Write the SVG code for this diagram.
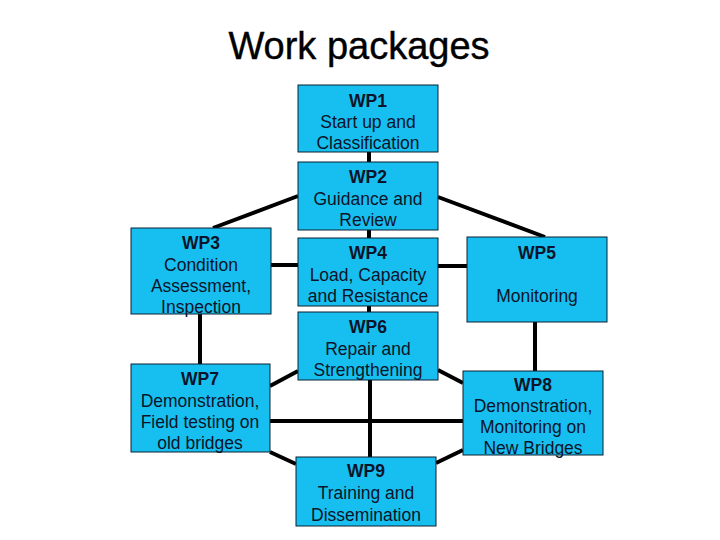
<svg xmlns="http://www.w3.org/2000/svg" width="720" height="540" viewBox="0 0 720 540">
<style>
.box{fill:#17BFF0;stroke:#0a2030;stroke-width:1}
.t{font-family:"Liberation Sans",Arial,sans-serif;font-size:17.5px;fill:#0b1428;text-anchor:middle}
.b{font-weight:bold}
.c{stroke:#000;stroke-width:4;fill:none}
</style>
<rect width="720" height="540" fill="#fff"/>
<text x="359" y="59" font-family="Liberation Sans,Arial,sans-serif" font-size="38" text-anchor="middle" fill="#000" stroke="#000" stroke-width="0.4">Work packages</text>
<g id="connectors" class="c">
<line x1="369" y1="152" x2="369" y2="162"/>
<line x1="369" y1="230" x2="369" y2="238"/>
<line x1="369" y1="306" x2="369" y2="312"/>
<line x1="370" y1="380" x2="370" y2="457"/>
<line x1="298" y1="196" x2="213" y2="228"/>
<line x1="438" y1="197" x2="545" y2="237"/>
<line x1="271" y1="265" x2="298" y2="265"/>
<line x1="438" y1="266" x2="467" y2="266"/>
<line x1="200" y1="314" x2="200" y2="364"/>
<line x1="270" y1="386" x2="298" y2="371"/>
<line x1="438" y1="370" x2="463" y2="383"/>
<line x1="270" y1="421" x2="463" y2="421"/>
<line x1="270" y1="452" x2="296" y2="464"/>
<line x1="436" y1="463" x2="463" y2="450"/>
<line x1="535" y1="322" x2="535" y2="371"/>
</g>
<g id="wp1"><rect class="box" x="298" y="85" width="140" height="67"/>
<text class="t"><tspan class="b" x="368" y="107">WP1</tspan><tspan x="368" y="128">Start up and</tspan><tspan x="368" y="149">Classification</tspan></text></g>
<g id="wp2"><rect class="box" x="298" y="162" width="140" height="68"/>
<text class="t"><tspan class="b" x="368" y="183">WP2</tspan><tspan x="368" y="205">Guidance and</tspan><tspan x="368" y="226">Review</tspan></text></g>
<g id="wp3"><rect class="box" x="131" y="228" width="140" height="86"/>
<text class="t"><tspan class="b" x="201" y="249">WP3</tspan><tspan x="201" y="271">Condition</tspan><tspan x="201" y="292">Assessment,</tspan><tspan x="201" y="313">Inspection</tspan></text></g>
<g id="wp4"><rect class="box" x="298" y="238" width="140" height="68"/>
<text class="t"><tspan class="b" x="368" y="259">WP4</tspan><tspan x="368" y="281">Load, Capacity</tspan><tspan x="368" y="302">and Resistance</tspan></text></g>
<g id="wp5"><rect class="box" x="467" y="237" width="140" height="85"/>
<text class="t"><tspan class="b" x="537" y="259">WP5</tspan><tspan x="537" y="302">Monitoring</tspan></text></g>
<g id="wp6"><rect class="box" x="298" y="312" width="140" height="68"/>
<text class="t"><tspan class="b" x="368" y="333">WP6</tspan><tspan x="368" y="355">Repair and</tspan><tspan x="368" y="376">Strengthening</tspan></text></g>
<g id="wp7"><rect class="box" x="131" y="364" width="139" height="88"/>
<text class="t"><tspan class="b" x="200" y="385">WP7</tspan><tspan x="200" y="407">Demonstration,</tspan><tspan x="200" y="428">Field testing on</tspan><tspan x="200" y="449">old bridges</tspan></text></g>
<g id="wp8"><rect class="box" x="463" y="371" width="140" height="84"/>
<text class="t"><tspan class="b" x="533" y="391">WP8</tspan><tspan x="533" y="412">Demonstration,</tspan><tspan x="533" y="433">Monitoring on</tspan><tspan x="533" y="454">New Bridges</tspan></text></g>
<g id="wp9"><rect class="box" x="296" y="457" width="140" height="69"/>
<text class="t"><tspan class="b" x="366" y="477">WP9</tspan><tspan x="366" y="499">Training and</tspan><tspan x="366" y="521">Dissemination</tspan></text></g>
</svg>
